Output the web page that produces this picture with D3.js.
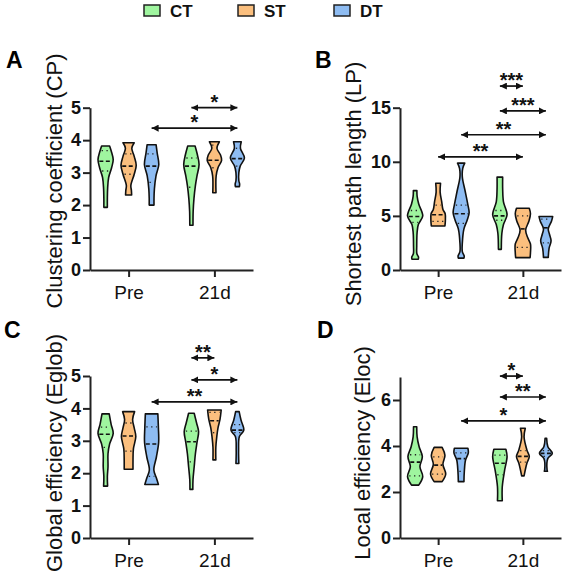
<!DOCTYPE html>
<html><head><meta charset="utf-8">
<script src="https://cdn.jsdelivr.net/npm/d3@7"></script>
<style>
html,body{margin:0;padding:0;background:#fff;}
svg text{font-family:"Liberation Sans",Arial,sans-serif;}
</style>
</head><body>
<svg id="chart" width="567" height="575"></svg>
<script>
// ---------- data ----------
const groups = ["Pre", "21d"];
const series = ["CT", "ST", "DT"];
const seriesColors = ["#9ff59f", "#fbbf7e", "#8ebcf2"];

// violin profiles: [value, relative half-width]; median and quartiles
const cpTicks = [0, 1, 2, 3, 4, 5];
const cpViolins = [
  {g:"Pre", s:"CT", prof:[[3.82,0.5],[3.65,0.72],[3.4,0.95],[3.15,0.75],[2.85,0.38],[2.5,0.25],[2.2,0.22],[1.93,0.22]], med:3.35, q:[3.68,3.05]},
  {g:"Pre", s:"ST", prof:[[3.92,0.7],[3.75,0.4],[3.5,0.7],[3.23,0.95],[2.95,0.7],[2.6,0.28],[2.45,0.35],[2.31,0.38]], med:3.2, q:[3.58,2.95]},
  {g:"Pre", s:"DT", prof:[[3.86,0.56],[3.6,0.7],[3.25,0.9],[2.9,0.55],[2.5,0.35],[2.2,0.3],[2.0,0.3]], med:3.2, q:[3.58,2.7]},
  {g:"21d", s:"CT", prof:[[3.82,0.46],[3.55,0.75],[3.25,0.96],[2.9,0.7],[2.6,0.5],[2.2,0.32],[1.8,0.22],[1.38,0.2]], med:3.2, q:[3.45,2.55]},
  {g:"21d", s:"ST", prof:[[3.95,0.62],[3.75,0.32],[3.55,0.75],[3.38,0.9],[3.15,0.45],[2.9,0.22],[2.38,0.2]], med:3.38, q:[3.85,3.15]},
  {g:"21d", s:"DT", prof:[[3.95,0.48],[3.75,0.38],[3.45,0.88],[3.2,0.35],[3.0,0.18],[2.75,0.18],[2.65,0.28],[2.57,0.25]], med:3.43, q:[3.75,3.2]}
];
const cpSig = [
  {from:["21d","CT"], to:["21d","DT"], y:5.0, label:"*"},
  {from:["Pre","DT"], to:["21d","DT"], y:4.37, label:"*"}
];

const lpTicks = [0, 5, 10, 15];
const lpViolins = [
  {g:"Pre", s:"CT", prof:[[7.34,0.22],[6.8,0.25],[6.1,0.45],[5.0,0.95],[4.2,0.4],[3.5,0.25],[2.2,0.2],[1.5,0.22],[1.2,0.42],[1.0,0.4]], med:4.95, q:[5.5,4.4]},
  {g:"Pre", s:"ST", prof:[[8.02,0.3],[7.2,0.25],[6.3,0.45],[5.6,0.6],[5.2,0.88],[4.5,0.9],[4.07,0.85]], med:5.1, q:[6.0,4.5]},
  {g:"Pre", s:"DT", prof:[[9.88,0.45],[9.4,0.2],[8.6,0.15],[7.3,0.5],[6.0,0.85],[5.3,1.0],[4.6,0.75],[3.8,0.35],[2.5,0.15],[1.7,0.15],[1.3,0.38],[1.1,0.35]], med:5.2, q:[6.0,4.3]},
  {g:"21d", s:"CT", prof:[[8.58,0.35],[7.5,0.35],[6.3,0.45],[5.1,0.9],[4.2,0.45],[3.4,0.25],[1.91,0.18]], med:5.0, q:[5.5,4.6]},
  {g:"21d", s:"ST", prof:[[5.71,0.8],[5.2,0.95],[4.5,0.75],[3.7,0.35],[3.0,0.6],[2.4,0.95],[1.6,0.95],[1.14,0.9]], med:3.8, q:[5.0,2.1]},
  {g:"21d", s:"DT", prof:[[4.94,0.85],[4.5,0.7],[3.8,0.3],[3.3,0.45],[2.7,0.65],[2.0,0.4],[1.17,0.3]], med:3.9, q:[4.7,2.5]}
];
const lpSig = [
  {from:["21d","CT"], to:["21d","ST"], y:17.0, label:"***"},
  {from:["21d","CT"], to:["21d","DT"], y:14.7, label:"***"},
  {from:["Pre","DT"], to:["21d","DT"], y:12.5, label:"**"},
  {from:["Pre","ST"], to:["21d","ST"], y:10.46, label:"**"}
];

const egTicks = [0, 1, 2, 3, 4, 5];
const egViolins = [
  {g:"Pre", s:"CT", prof:[[3.83,0.45],[3.5,0.7],[3.23,0.95],[2.9,0.5],[2.6,0.3],[2.2,0.3],[1.9,0.22],[1.6,0.25]], med:3.2, q:[3.42,2.8]},
  {g:"Pre", s:"ST", prof:[[3.9,0.75],[3.66,0.5],[3.4,0.7],[3.13,0.9],[2.75,0.6],[2.4,0.55],[2.12,0.55]], med:3.15, q:[3.55,2.68]},
  {g:"Pre", s:"DT", prof:[[3.83,0.78],[3.4,0.85],[2.95,0.88],[2.5,0.6],[2.1,0.28],[1.85,0.6],[1.65,0.85]], med:2.9, q:[3.43,1.9]},
  {g:"21d", s:"CT", prof:[[3.85,0.35],[3.55,0.65],[3.28,0.9],[2.95,0.7],[2.6,0.5],[2.2,0.35],[1.8,0.2],[1.5,0.18]], med:2.97, q:[3.3,2.35]},
  {g:"21d", s:"ST", prof:[[3.95,0.85],[3.66,0.7],[3.4,0.45],[3.13,0.3],[2.8,0.18],[2.41,0.18]], med:3.62, q:[3.88,3.25]},
  {g:"21d", s:"DT", prof:[[3.9,0.22],[3.64,0.45],[3.33,0.8],[3.13,0.25],[2.7,0.15],[2.3,0.18]], med:3.33, q:[3.5,3.25]}
];
const egSig = [
  {from:["21d","CT"], to:["21d","ST"], y:5.56, label:"**"},
  {from:["21d","CT"], to:["21d","DT"], y:4.88, label:"*"},
  {from:["Pre","DT"], to:["21d","DT"], y:4.2, label:"**"}
];

const elTicks = [0, 2, 4, 6];
const elViolins = [
  {g:"Pre", s:"CT", prof:[[4.84,0.2],[4.4,0.25],[3.97,0.5],[3.54,0.9],[3.1,0.6],[2.67,0.95],[2.3,0.45]], med:3.3, q:[3.62,2.7]},
  {g:"Pre", s:"ST", prof:[[3.94,0.5],[3.6,0.85],[3.2,0.6],[2.78,0.95],[2.45,0.5]], med:3.17, q:[3.53,2.78]},
  {g:"Pre", s:"DT", prof:[[3.9,0.85],[3.7,0.9],[3.39,0.55],[2.9,0.4],[2.45,0.35]], med:3.45, q:[3.7,2.9]},
  {g:"21d", s:"CT", prof:[[3.86,0.75],[3.54,0.9],[2.96,0.6],[2.23,0.3],[1.62,0.3]], med:3.25, q:[3.6,2.75]},
  {g:"21d", s:"ST", prof:[[4.77,0.3],[4.4,0.15],[3.83,0.5],[3.54,0.8],[3.25,0.5],[2.7,0.15]], med:3.55, q:[3.8,3.3]},
  {g:"21d", s:"DT", prof:[[4.33,0.1],[3.97,0.25],[3.68,0.8],[3.46,0.25],[2.96,0.15],[2.9,0.2]], med:3.68, q:[3.8,3.55]}
];
const elSig = [
  {from:["21d","CT"], to:["21d","ST"], y:7.04, label:"*"},
  {from:["21d","CT"], to:["21d","DT"], y:6.13, label:"**"},
  {from:["Pre","DT"], to:["21d","DT"], y:5.09, label:"*"}
];

// ---------- layout ----------
const panels = [
  {letter:"A", lx:6, ly:68, title:"Clustering coefficient (CP)", tx:62, ty:181,
   xr:[90,253], yr:[270,107.7], dom:[0,5], ticks:cpTicks, violins:cpViolins, sig:cpSig},
  {letter:"B", lx:315, ly:68, title:"Shortest path length (LP)", tx:361, ty:184,
   xr:[400,561], yr:[270,107.7], dom:[0,15], ticks:lpTicks, violins:lpViolins, sig:lpSig},
  {letter:"C", lx:4, ly:338, title:"Global efficiency (Eglob)", tx:62, ty:453,
   xr:[90,253], yr:[538,376], dom:[0,5], ticks:egTicks, violins:egViolins, sig:egSig},
  {letter:"D", lx:317, ly:338, title:"Local efficiency (Eloc)", tx:370, ty:453,
   xr:[400,561], yr:[538,377], dom:[0,7], ticks:elTicks, violins:elViolins, sig:elSig}
];

const svg = d3.select("#chart");
const FONT = "Liberation Sans, Arial, sans-serif";
const color = d3.scaleOrdinal().domain(series).range(seriesColors);
const offset = d3.scalePoint().domain(series).range([-23, 23]);
const wScale = d3.scaleLinear().domain([0, 1]).range([0, 8]);

// arrow marker
const defs = svg.append("defs");
defs.append("marker").attr("id","arr").attr("viewBox","0 0 10 10")
  .attr("refX",10).attr("refY",5).attr("markerUnits","userSpaceOnUse")
  .attr("markerWidth",7).attr("markerHeight",7).attr("orient","auto-start-reverse")
  .append("path").attr("d","M0,0 L10,5 L0,10 Z").attr("fill","#111");

// legend
const legX = [144, 238, 334];
series.forEach((s, i) => {
  svg.append("rect").attr("x", legX[i]).attr("y", 5).attr("width", 16).attr("height", 11)
    .attr("fill", color(s)).attr("stroke", "#222").attr("stroke-width", 1.5);
  svg.append("text").attr("x", legX[i] + 26).attr("y", 17).text(s)
    .style("font-size", "17px").style("font-weight", "bold").attr("fill", "#111");
});

function widthAt(prof, v) {
  for (let i = 0; i < prof.length - 1; i++) {
    const a = prof[i], b = prof[i + 1];
    if (v <= a[0] && v >= b[0]) {
      const t = (a[0] - v) / (a[0] - b[0]);
      return a[1] + t * (b[1] - a[1]);
    }
  }
  return prof[prof.length - 1][1];
}

panels.forEach(p => {
  const g = svg.append("g");
  const x = d3.scalePoint().domain(groups).range(p.xr).padding(0.45);
  const y = d3.scaleLinear().domain(p.dom).range(p.yr);

  // axes
  const ya = g.append("g").attr("transform", `translate(${p.xr[0]},0)`)
    .call(d3.axisLeft(y).tickValues(p.ticks).tickFormat(d3.format("d"))
      .tickSize(7).tickSizeOuter(0).tickPadding(2));
  ya.selectAll("text").style("font-size", "18px").style("font-weight", "bold")
    .style("font-family", FONT).attr("fill", "#111");
  const xa = g.append("g").attr("transform", `translate(0,${p.yr[0]})`)
    .call(d3.axisBottom(x).tickSize(7).tickSizeOuter(0).tickPadding(9));
  xa.selectAll("text").style("font-size", "19px").style("font-family", FONT).attr("fill", "#111");
  [ya, xa].forEach(a => {
    a.selectAll("path,line").attr("stroke", "#222").attr("stroke-width", 2);
  });

  // titles
  svg.append("text").attr("transform", `translate(${p.tx},${p.ty}) rotate(-90)`)
    .attr("text-anchor", "middle").style("font-size", "22px").attr("fill", "#111").text(p.title);
  svg.append("text").attr("x", p.lx).attr("y", p.ly).style("font-size", "23px")
    .style("font-weight", "bold").attr("fill", "#000").text(p.letter);

  // violins
  p.violins.forEach(v => {
    const cx = x(v.g) + offset(v.s);
    const area = d3.area()
      .y(d => y(d[0]))
      .x0(d => cx - wScale(d[1]))
      .x1(d => cx + wScale(d[1]))
      .curve(d3.curveCatmullRom.alpha(0.5));
    g.append("path").attr("d", area(v.prof) + "Z")
      .attr("fill", color(v.s)).attr("stroke", "#111").attr("stroke-width", 1.6)
      .attr("stroke-linejoin", "round");
    const w = Math.max(wScale(widthAt(v.prof, v.med)) - 1, 1.5);
    g.append("line").attr("x1", cx - w).attr("x2", cx + w)
      .attr("y1", y(v.med)).attr("y2", y(v.med))
      .attr("stroke", "#111").attr("stroke-width", 1.6).attr("stroke-dasharray", "4,2.5");
    v.q.forEach(qv => {
      const wq = Math.max(wScale(widthAt(v.prof, qv)) - 1.5, 1);
      g.append("line").attr("x1", cx - wq).attr("x2", cx + wq)
        .attr("y1", y(qv)).attr("y2", y(qv))
        .attr("stroke", "#222").attr("stroke-width", 1.3).attr("stroke-dasharray", "1.3,3.5");
    });
  });

  // significance arrows
  p.sig.forEach(s => {
    const x1 = x(s.from[0]) + offset(s.from[1]);
    const x2 = x(s.to[0]) + offset(s.to[1]);
    const yy = y(s.y);
    g.append("line").attr("x1", x1).attr("x2", x2).attr("y1", yy).attr("y2", yy)
      .attr("stroke", "#111").attr("stroke-width", 1.7)
      .attr("marker-start", "url(#arr)").attr("marker-end", "url(#arr)");
    g.append("text").attr("x", (x1 + x2) / 2).attr("y", yy + 1)
      .attr("text-anchor", "middle").style("font-size", "20px").style("font-weight", "bold")
      .attr("fill", "#111").text(s.label);
  });
});
</script>
</body></html>
